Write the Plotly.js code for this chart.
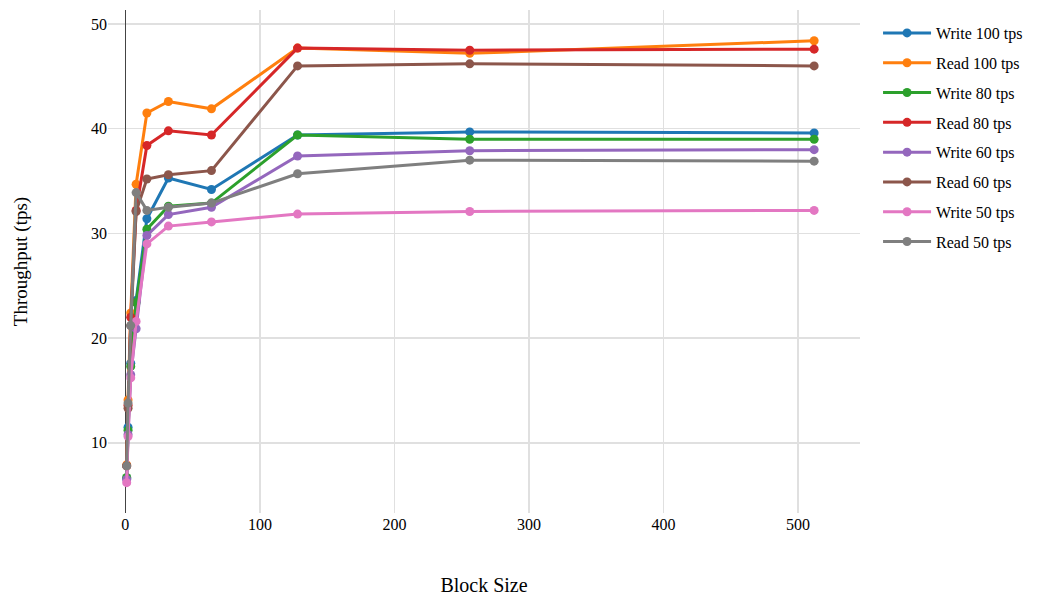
<!DOCTYPE html>
<html>
<head>
<meta charset="utf-8">
<script src="https://cdn.plot.ly/plotly-3.0.1.min.js"></script>
<style>html,body{margin:0;padding:0;background:#fff;}#chart{width:1039px;height:601px;}</style>
</head>
<body>
<div id="chart"></div>
<script>
const blockSizes = [1, 2, 4, 8, 16, 32, 64, 128, 256, 512];
const seriesNames = ["Write 100 tps", "Read 100 tps", "Write 80 tps", "Read 80 tps", "Write 60 tps", "Read 60 tps", "Write 50 tps", "Read 50 tps"];
const write100 = [6.6, 11.5, 17.6, 23.6, 31.4, 35.3, 34.2, 39.4, 39.7, 39.6];
const read100  = [7.9, 14.1, 22.4, 34.7, 41.5, 42.6, 41.9, 47.7, 47.2, 48.4];
const write80  = [6.7, 11.2, 17.3, 23.4, 30.4, 32.6, 32.9, 39.4, 39.0, 39.0];
const read80   = [7.8, 13.6, 22.0, 32.2, 38.4, 39.8, 39.4, 47.7, 47.5, 47.6];
const write60  = [6.5, 10.8, 16.5, 20.9, 29.8, 31.8, 32.5, 37.4, 37.9, 38.0];
const read60   = [7.8, 13.3, 21.2, 32.1, 35.2, 35.6, 36.0, 46.0, 46.2, 46.0];
const write50  = [6.2, 10.6, 16.2, 21.6, 29.0, 30.7, 31.1, 31.85, 32.1, 32.2];
const read50   = [7.8, 13.8, 21.2, 33.9, 32.2, 32.5, 32.9, 35.7, 37.0, 36.9];
const colors = ["#1f77b4", "#ff7f0e", "#2ca02c", "#d62728", "#9467bd", "#8c564b", "#e377c2", "#7f7f7f"];
const allValues = [write100, read100, write80, read80, write60, read60, write50, read50];

const traces = allValues.map((vals, i) => ({
  x: blockSizes,
  y: vals,
  name: seriesNames[i],
  legendgroup: "g" + i,
  type: "scatter",
  mode: "lines+markers",
  line: {color: colors[i], width: 3},
  marker: {color: colors[i], size: 9}
}));

const fam = "'Liberation Serif', 'Times New Roman', serif";
const font = {family: fam, size: 16, color: "#000"};
const layout = {
  template: "none",
  width: 1039, height: 601,
  paper_bgcolor: "#fff", plot_bgcolor: "#fff",
  font: font,
  margin: {l: 108, r: 179, t: 10, b: 88},
  showlegend: true,
  legend: {x: 1.024, y: 0.988, xanchor: "left", yanchor: "top", font: font,
           tracegroupgap: 6, itemwidth: 48, traceorder: "grouped"},
  xaxis: {
    title: {text: "Block Size", font: {family: fam, size: 20, color: "#000"}, standoff: 45},
    range: [-12.9, 546.1],
    showgrid: true, gridcolor: "#e0e0e0", gridwidth: 1.5,
    zeroline: true, zerolinecolor: "#444", zerolinewidth: 1.5,
    tickvals: [0, 100, 200, 300, 400, 500],
    tickfont: font,
    ticks: "", showline: false
  },
  yaxis: {
    title: {text: "Throughput (tps)", font: {family: fam, size: 19, color: "#000"}, standoff: 58},
    range: [3.3, 51.34],
    showgrid: true, gridcolor: "#e0e0e0", gridwidth: 1.5,
    zeroline: false,
    tickvals: [10, 20, 30, 40, 50],
    tickfont: font,
    ticks: "", showline: false
  }
};
Plotly.newPlot("chart", traces, layout, {displayModeBar: false, staticPlot: true});
</script>
</body>
</html>
